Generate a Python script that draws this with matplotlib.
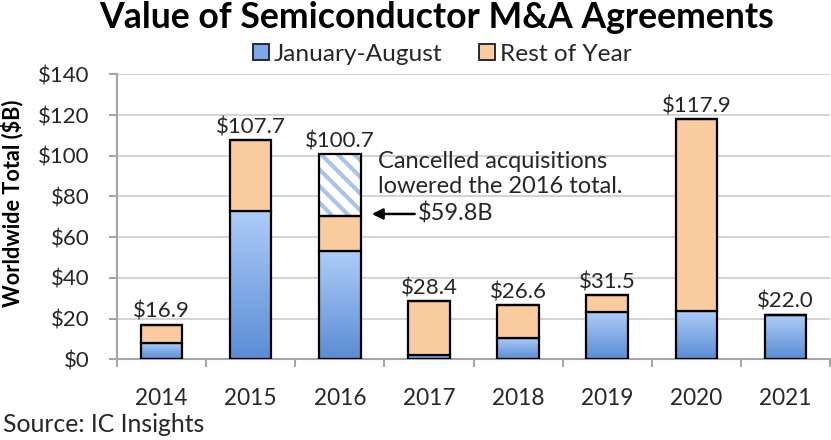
import numpy as np
import matplotlib
matplotlib.use("Agg")
import matplotlib.pyplot as plt
from matplotlib.patches import Patch
from matplotlib.colors import LinearSegmentedColormap

years = ['2014', '2015', '2016', '2017', '2018', '2019', '2020', '2021']
jan_aug = [8.0, 72.8, 53.4, 2.0, 10.6, 23.4, 23.9, 22.0]
rest_of_year = [8.9, 34.9, 16.9, 26.4, 16.0, 8.1, 94.0, 0.0]
cancelled = [0, 0, 30.4, 0, 0, 0, 0, 0]
total_labels = ['$16.9', '$107.7', '$100.7', '$28.4', '$26.6', '$31.5', '$117.9', '$22.0']
totals = [16.9, 107.7, 100.7, 28.4, 26.6, 31.5, 117.9, 22.0]
y_ticks = [0, 20, 40, 60, 80, 100, 120, 140]

plt.rcParams['font.family'] = ['Lato', 'DejaVu Sans']
plt.rcParams['hatch.linewidth'] = 3.0
txt = '#262626'

fig = plt.figure(figsize=(8.31, 4.40), dpi=100)
ax = fig.add_axes([0.1408, 0.1834, 0.8580, 0.6477])

x = np.arange(len(years))
w = 0.466
blue_cmap = LinearSegmentedColormap.from_list('b', ['#5a8cd4', '#aecdf8'])
grad = np.linspace(0, 1, 256).reshape(-1, 1)

blue_bars = ax.bar(x, jan_aug, width=w, facecolor='none', edgecolor='black',
                   linewidth=1.6, zorder=4)
for b in blue_bars:
    x0, y0 = b.get_x(), b.get_y()
    x1, y1 = x0 + b.get_width(), y0 + b.get_height()
    im = ax.imshow(grad, extent=[x0, x1, y0, y1], origin='lower', aspect='auto',
                   cmap=blue_cmap, zorder=3, interpolation='bilinear')
    im.set_clip_path(b)

ax.bar(x, rest_of_year, bottom=jan_aug, width=w, color='#f9cb9f',
       edgecolor='black', linewidth=1.6, zorder=4)

bottom2 = [a + r for a, r in zip(jan_aug, rest_of_year)]
ax.bar(x, cancelled, bottom=bottom2, width=w, facecolor='white',
       edgecolor='#a6c4ef', hatch='\\\\', linewidth=0, zorder=3)
ax.bar(x, cancelled, bottom=bottom2, width=w, facecolor='none',
       edgecolor='black', linewidth=1.6, zorder=4)

for xi, t, lab in zip(x, totals, total_labels):
    ax.annotate(lab, (xi, t), xytext=(0, 5), textcoords='offset points',
                ha='center', va='baseline', fontsize=16, color=txt)

ax.text(2.424, 94.0, 'Cancelled acquisitions', fontsize=17, color=txt,
        va='baseline', ha='left')
ax.text(2.424, 81.7, 'lowered the 2016 total.', fontsize=17, color=txt,
        va='baseline', ha='left')
ax.annotate('', xy=(2.36, 71.4), xytext=(2.84, 71.4),
            arrowprops=dict(arrowstyle='-|>', color='black', lw=1.8,
                            mutation_scale=16, shrinkA=0, shrinkB=0))
ax.text(2.873, 68.4, '$59.8B', fontsize=17, color=txt, va='baseline', ha='left')

ax.set_xlim(-0.5, 7.5)
ax.set_ylim(0, 140)
ax.set_yticks(y_ticks)
ax.set_yticklabels(['$' + str(v) for v in y_ticks], fontsize=16, color=txt)
ax.set_xticks(x)
ax.set_xticklabels(years, fontsize=16.3, color=txt)
ax.set_xticks(np.arange(-0.5, 8, 1), minor=True)
ax.tick_params(axis='x', which='major', length=0, pad=21)
ax.tick_params(axis='x', which='minor', length=6, width=1.5, color='#a6a6a6', direction='out')
ax.tick_params(axis='y', length=6, width=1.5, color='#a6a6a6', direction='out', pad=14)
ax.grid(axis='y', color='#d4d4d4', linewidth=1.5, zorder=0)
ax.set_axisbelow(True)
for s in ['top', 'right']:
    ax.spines[s].set_visible(False)
for s in ['left', 'bottom']:
    ax.spines[s].set_color('#a6a6a6')
    ax.spines[s].set_linewidth(1.5)

ax.set_ylabel('Worldwide Total ($B)', fontsize=15.6, fontweight='bold', color='black')
ax.yaxis.set_label_coords(-0.131, 0.548)

fig.text(0.525, 0.936, 'Value of Semiconductor M&A Agreements', fontsize=25.7,
         fontweight='bold', ha='center', va='baseline', color='black')
handles = [Patch(facecolor='#7fa9e6', edgecolor='#1f2a44', linewidth=1.4, label='January-August'),
           Patch(facecolor='#f9cb9f', edgecolor='#2a2a2a', linewidth=1.4, label='Rest of Year')]
fig.legend(handles=handles, loc='center', bbox_to_anchor=(0.532, 0.877), ncol=2,
           frameon=False, fontsize=17.6, handlelength=0.65, handleheight=0.65,
           handletextpad=0.2, columnspacing=1.5, labelcolor=txt,
           borderpad=0, borderaxespad=0)
fig.text(0.004, 0.018, 'Source: IC Insights', fontsize=17.8, color=txt, ha='left', va='baseline')

fig.savefig('out.png', dpi=100)
